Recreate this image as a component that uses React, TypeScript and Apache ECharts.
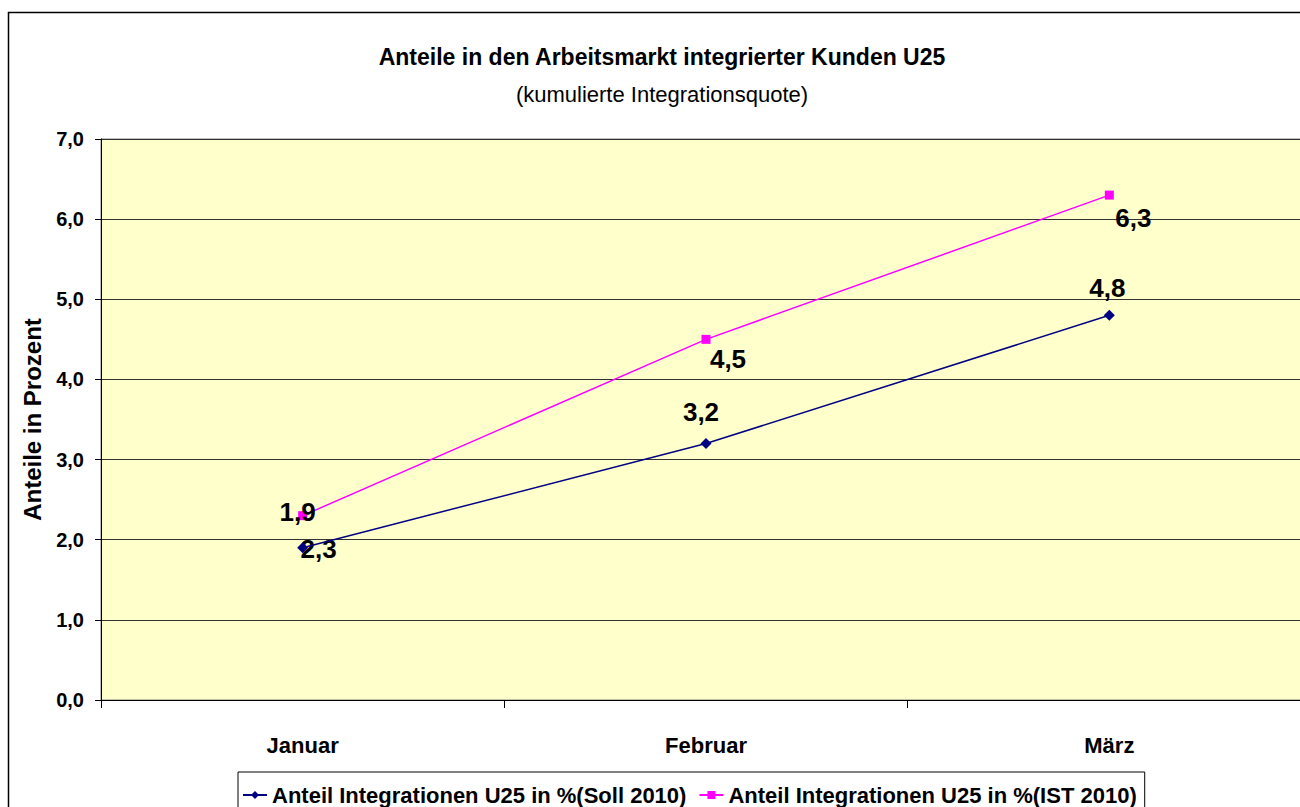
import React, { useEffect, useRef } from "react";
import * as echarts from "echarts";

const categories = ["Januar", "Februar", "März"];
const sollValues = [1.9, 3.2, 4.8];
const istValues = [2.3, 4.5, 6.3];
const sollName = "Anteil Integrationen U25 in %(Soll 2010)";
const istName = "Anteil Integrationen U25 in %(IST 2010)";
const titleText = "Anteile in den Arbeitsmarkt integrierter Kunden U25";
const subtitleText = "(kumulierte Integrationsquote)";
const yAxisName = "Anteile in Prozent";

// label placement tweaks (style only)
const sollLabelOffsets = [[-5, -12], [-5, -8], [-2, -4]];
const istLabelOffsets = [[16, 11], [22, -3], [24, 0]];

const fmt = (v: number) => v.toFixed(1).replace(".", ",");
const FONT = "'Liberation Sans', Arial, sans-serif";

export default function App() {
  const ref = useRef<HTMLDivElement>(null);
  useEffect(() => {
    if (!ref.current) return;
    const chart = echarts.init(ref.current, null, { renderer: "svg" });
    const labelBase = {
      show: true,
      fontSize: 26,
      fontWeight: "bold",
      color: "#000",
      fontFamily: FONT,
      formatter: (p: any) => fmt(p.value),
    };
    chart.setOption({
      animation: false,
      backgroundColor: "#ffffff",
      textStyle: { fontFamily: FONT },
      title: {
        text: titleText,
        subtext: subtitleText,
        left: 657,
        textAlign: "center",
        top: 40,
        itemGap: 15,
        textStyle: { fontSize: 23, fontWeight: "bold", color: "#000", fontFamily: FONT },
        subtextStyle: { fontSize: 22, color: "#000", fontFamily: FONT },
      },
      graphic: [
        {
          type: "rect",
          shape: { x: 8.5, y: 12.5, width: 1330, height: 820 },
          style: { fill: "none", stroke: "#000", lineWidth: 1.5 },
          silent: true,
          z: 100,
        },
      ],
      grid: {
        left: 101,
        top: 139,
        right: 9,
        bottom: 107,
        show: true,
        backgroundColor: "#FFFFCC",
        borderColor: "#808080",
        borderWidth: 1,
      },
      legend: {
        left: 238,
        top: 772,
        orient: "horizontal",
        backgroundColor: "#ffffff",
        borderColor: "#000",
        borderWidth: 1,
        borderRadius: 0,
        padding: [12, 8, 14, 4],
        itemWidth: 24,
        itemHeight: 10,
        itemGap: 12,
        textStyle: { fontSize: 22, fontWeight: "bold", color: "#000", fontFamily: FONT },
        data: [sollName, istName],
      },
      xAxis: {
        type: "category",
        data: categories,
        boundaryGap: true,
        axisLine: { show: true, lineStyle: { color: "#000", width: 1 } },
        axisTick: { show: true, length: 8, lineStyle: { color: "#000" } },
        axisLabel: { fontSize: 22, fontWeight: "bold", color: "#000", margin: 34, fontFamily: FONT },
      },
      yAxis: {
        type: "value",
        min: 0,
        max: 7,
        interval: 1,
        name: yAxisName,
        nameLocation: "middle",
        nameGap: 57,
        nameTextStyle: { fontSize: 24, fontWeight: "bold", color: "#000", fontFamily: FONT },
        axisLine: { show: true, lineStyle: { color: "#000", width: 1 } },
        axisTick: { show: true, length: 6, lineStyle: { color: "#000" } },
        axisLabel: {
          fontSize: 20,
          fontWeight: "bold",
          color: "#000",
          margin: 17,
          formatter: (v: number) => fmt(v),
          fontFamily: FONT,
        },
        splitLine: { show: true, lineStyle: { color: "#333", width: 1 } },
      },
      series: [
        {
          name: sollName,
          type: "line",
          data: sollValues.map((v, i) => ({
            value: v,
            label: { offset: sollLabelOffsets[i] },
          })),
          color: "#000080",
          symbol: "diamond",
          symbolSize: 11,
          lineStyle: { color: "#000080", width: 1.5 },
          itemStyle: { color: "#000080" },
          label: { ...labelBase, position: "top" },
          z: 3,
        },
        {
          name: istName,
          type: "line",
          data: istValues.map((v, i) => ({
            value: v,
            label: { offset: istLabelOffsets[i] },
          })),
          color: "#FF00FF",
          symbol: "rect",
          symbolSize: 9,
          lineStyle: { color: "#FF00FF", width: 1.5 },
          itemStyle: { color: "#FF00FF" },
          label: { ...labelBase, position: "bottom" },
          z: 2,
        },
      ],
    });
    return () => chart.dispose();
  }, []);
  return (
    <div
      style={{
        position: "absolute",
        left: 0,
        top: 0,
        width: 1300,
        height: 807,
        overflow: "hidden",
      }}
    >
      <div ref={ref} style={{ width: 1320, height: 807 }} />
    </div>
  );
}
